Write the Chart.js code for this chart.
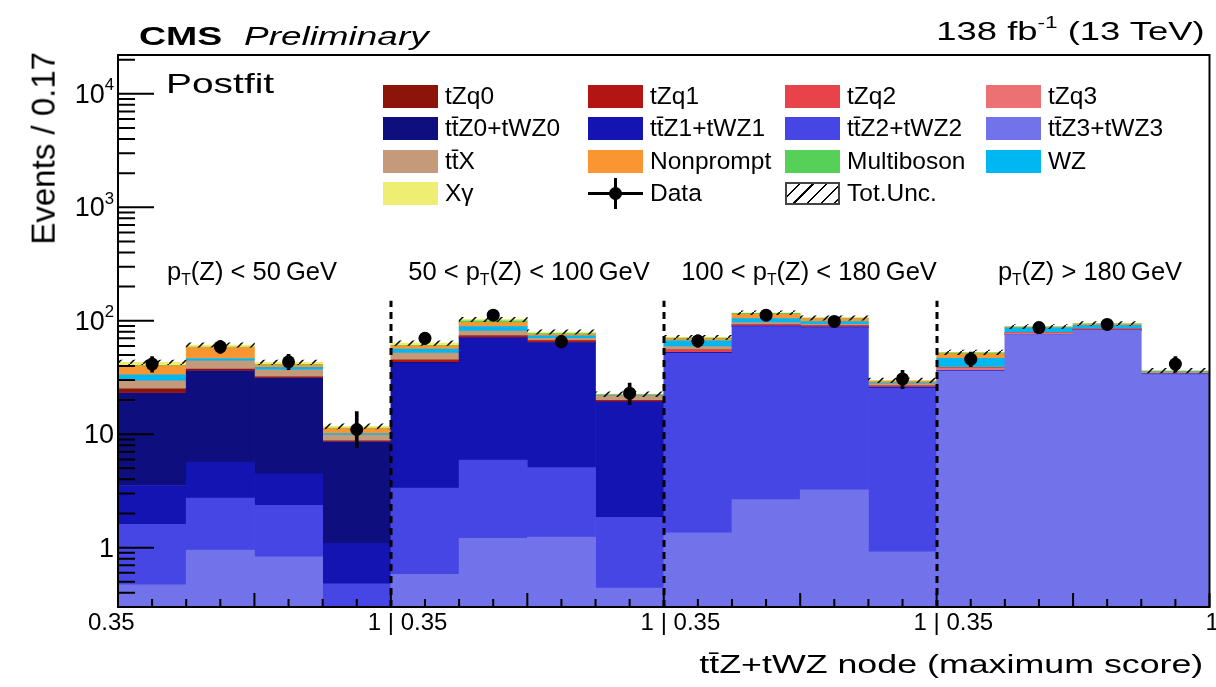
<!DOCTYPE html>
<html>
<head>
<meta charset="utf-8">
<script src="https://cdn.jsdelivr.net/npm/chart.js@4.4.1/dist/chart.umd.min.js"></script>
<style>
  body { margin: 0; background: #fff; }
  #wrap { position: relative; width: 1216px; height: 687px; overflow: hidden;
          font-family: "Liberation Sans", Arial, Helvetica, sans-serif; color: #000; }
  canvas { position: absolute; left: 0; top: 0; }
  .t { position: absolute; white-space: nowrap; line-height: 1; }
  .wide { transform-origin: left top; }
  sup.s { font-size: 0.62em; position: relative; top: -0.75em; vertical-align: baseline; }
  sub.s { font-size: 0.62em; position: relative; top: 0.3em; vertical-align: baseline; }
  .leg { position: absolute; height: 23px; display: flex; align-items: center; font-size: 24.5px; white-space: nowrap; }
  .sw { width: 55px; height: 23px; margin-right: 7px; box-sizing: border-box; position: relative; }
  .rlab { position: absolute; font-size: 25.5px; line-height: 1; white-space: nowrap; transform: translateX(-50%); }
  .ylab { position: absolute; font-size: 27px; line-height: 1; white-space: nowrap; transform: translateX(-100%); }
  .xlab { position: absolute; font-size: 24px; line-height: 1; white-space: nowrap; }
</style>
</head>
<body>
<div id="wrap">
  <canvas id="c" width="1216" height="687"></canvas>

  <div class="t wide" style="left:139px;top:23px;font-size:26px;font-weight:bold;transform:scaleX(1.44)">CMS</div>
  <div class="t wide" style="left:244px;top:23px;font-size:26px;font-style:italic;transform:scaleX(1.42)">Preliminary</div>
  <div class="t" style="right:11px;top:18px;font-size:26px;transform:scaleX(1.40);transform-origin:right top">138 fb<sup class="s">-1</sup> (13 TeV)</div>
  <div class="t wide" style="left:166px;top:70px;font-size:28px;transform:scaleX(1.39)">Postfit</div>
  <div class="t" style="right:13px;top:651px;font-size:26.5px;transform:scaleX(1.35);transform-origin:right top">tt̄Z+tWZ node (maximum score)</div>
  <div class="t" style="right:1189px;top:52px;font-size:33px;transform:rotate(-90deg);transform-origin:right top">Events / 0.17</div>

  <div class="rlab" style="left:252px;top:259px">p<sub class="s">T</sub>(Z) &lt; 50&#8201;GeV</div>
  <div class="rlab" style="left:529px;top:259px">50 &lt; p<sub class="s">T</sub>(Z) &lt; 100&#8201;GeV</div>
  <div class="rlab" style="left:809px;top:259px">100 &lt; p<sub class="s">T</sub>(Z) &lt; 180&#8201;GeV</div>
  <div class="rlab" style="left:1090px;top:259px">p<sub class="s">T</sub>(Z) &gt; 180&#8201;GeV</div>

  <div id="legend"></div>
  <div id="axlabels"></div>
</div>

<script>
// 16 bins: 4 pT(Z) regions x 4 score bins (0.35 - 1)
const binLabels = ['<50 a', '<50 b', '<50 c', '<50 d',
                   '50-100 a', '50-100 b', '50-100 c', '50-100 d',
                   '100-180 a', '100-180 b', '100-180 c', '100-180 d',
                   '>180 a', '>180 b', '>180 c', '>180 d'];

// postfit yields per process
const ttZ3 = [0.47, 0.95, 0.83, 0.20, 0.58, 1.21, 1.24, 0.44, 1.35, 2.65, 3.24, 0.92, 35.9, 75.5, 82.3, 33.6];
const ttZ2 = [1.13, 1.79, 1.53, 0.28, 2.77, 4.71, 3.84, 1.41, 50.2, 86.2, 83.8, 24.6, 0.4, 0.5, 0.5, 0.3];
const ttZ1 = [1.93, 2.91, 2.11, 0.61, 39.1, 64.4, 58.5, 17.3, 0.95, 0.95, 0.96, 0.40, 0.05, 0.05, 0.05, 0.02];
const ttZ0 = [19.5, 30.6, 26.8, 7.5, 0.55, 0.8, 0.7, 0.25, 0.1, 0.1, 0.1, 0.05, 0.02, 0.02, 0.02, 0.01];
const tZq3 = [0, 0, 0, 0, 0, 0.05, 0.05, 0, 0.1, 0.15, 0.15, 0.05, 1.8, 1.8, 1.5, 0.5];
const tZq2 = [0.02, 0.03, 0.03, 0.01, 0.1, 0.15, 0.15, 0.05, 2.4, 2.35, 1.85, 0.55, 0.1, 0.1, 0.1, 0.03];
const tZq1 = [0.15, 0.2, 0.15, 0.05, 1.9, 2.1, 1.9, 0.45, 0.1, 0.1, 0.1, 0.03, 0.05, 0.05, 0.05, 0.02];
const tZq0 = [1.9, 1.0, 0.55, 0.1, 0.1, 0.1, 0.1, 0.03, 0.02, 0.02, 0.02, 0.01, 0.01, 0.01, 0.01, 0.01];
const ttX = [4.5, 6.9, 5.0, 1.07, 6.8, 7.7, 3.7, 1.8, 3.9, 3.8, 2.9, 1.2, 0.7, 0.8, 0.7, 0.5];
const wz = [3.7, 2.1, 1.8, 0.3, 4.3, 7.6, 3.3, 0.2, 7.5, 8.1, 5.2, 0.6, 7.7, 7.7, 6.0, 0.4];
const nonprompt = [6.8, 11.6, 2.1, 1.1, 3.9, 7.4, 2.6, 0.3, 2.6, 9.3, 6.1, 0.8, 4.3, 0.8, 2.4, 0.4];
const multiboson = [0.4, 0.6, 0.4, 0.1, 0.6, 3.6, 1.0, 0.1, 1.2, 2.5, 1.0, 0.2, 1.2, 1.2, 0.5, 0.2];
const xgamma = [2.5, 2.5, 1.7, 0.4, 2.8, 3.0, 2.6, 0.2, 0.9, 1.5, 0.5, 0.4, 0.5, 0.4, 0.3, 0.4];

// total uncertainty (absolute, symmetric) on the summed prediction
const totUnc = [2.0, 2.8, 2.0, 0.6, 3.0, 4.5, 3.5, 1.1, 3.0, 4.8, 4.5, 1.4, 2.5, 3.8, 4.0, 1.7];

// observed data with error bar ends
const dataObs = [41.5, 58.9, 43.5, 11.0, 70.1, 112, 65.6, 23.0, 66.4, 112, 98.7, 30.7, 45.9, 87.0, 92.9, 41.5];
const dataLo  = [35.3, 51.5, 37.0, 7.6, 62.0, 101.5, 57.7, 18.2, 58.5, 101.5, 89.0, 25.2, 39.3, 78.0, 83.5, 35.3];
const dataHi  = [48.3, 67.0, 50.5, 15.8, 79.0, 123, 74.0, 28.2, 75.0, 123, 109, 36.5, 53.0, 96.5, 102.7, 48.3];

const yTickVals = [1, 10, 100, 1000, 10000];
const yTickText = ['1', '10', '10<sup class="s">2</sup>', '10<sup class="s">3</sup>', '10<sup class="s">4</sup>'];
const xTickText = ['0.35', '1 | 0.35', '1 | 0.35', '1 | 0.35', '1'];

const Y_MIN = 0.32, Y_MAX = 2.2e4;
const dividerTop = 150;

const colors = {
  tZq0: '#8c1409', tZq1: '#b31513', tZq2: '#e8434a', tZq3: '#ec7173',
  ttZ0: '#0e0e7e', ttZ1: '#1414b3', ttZ2: '#4646e5', ttZ3: '#7272ea',
  ttX: '#c49a7b', nonprompt: '#fa9632', multiboson: '#56d056', wz: '#00b7f2', xgamma: '#eeee73'
};

// stacking order, bottom first
const stack = [
  ['tt̄Z3+tWZ3', ttZ3, colors.ttZ3], ['tt̄Z2+tWZ2', ttZ2, colors.ttZ2],
  ['tt̄Z1+tWZ1', ttZ1, colors.ttZ1], ['tt̄Z0+tWZ0', ttZ0, colors.ttZ0],
  ['tZq3', tZq3, colors.tZq3], ['tZq2', tZq2, colors.tZq2],
  ['tZq1', tZq1, colors.tZq1], ['tZq0', tZq0, colors.tZq0],
  ['tt̄X', ttX, colors.ttX], ['WZ', wz, colors.wz],
  ['Nonprompt', nonprompt, colors.nonprompt], ['Multiboson', multiboson, colors.multiboson],
  ['Xγ', xgamma, colors.xgamma]
];

const total = binLabels.map((_, i) => stack.reduce((s, d) => s + d[1][i], 0));

const canvas = document.getElementById('c');
const ctx = canvas.getContext('2d');

function hatchPattern() {
  const p = document.createElement('canvas');
  p.width = 13; p.height = 13;
  const g = p.getContext('2d');
  g.strokeStyle = '#000';
  g.lineWidth = 1.5;
  g.beginPath(); g.moveTo(-2, 15); g.lineTo(15, -2); g.stroke();
  return ctx.createPattern(p, 'repeat');
}

// bars overlay each other in the same bin (grouped: false), each kind in its own stack
const datasets = stack.map(([label, vals, col]) => ({
  type: 'bar', label, data: vals, backgroundColor: col, borderWidth: 0,
  stack: 'mc', grouped: false, order: 3, barPercentage: 1, categoryPercentage: 1
}));

datasets.push({
  type: 'bar', label: 'Tot.Unc.', stack: 'unc', grouped: false, order: 2,
  data: total.map((t, i) => [t - totUnc[i], t + totUnc[i]]),
  backgroundColor: hatchPattern(), borderWidth: 0, barPercentage: 1, categoryPercentage: 1
});
datasets.push({
  type: 'bar', label: 'Data err', stack: 'err', grouped: false, order: 1,
  data: dataLo.map((lo, i) => [lo, dataHi[i]]),
  backgroundColor: '#000', borderWidth: 0, barThickness: 3
});
datasets.push({
  type: 'line', label: 'Data', order: 0, data: dataObs, showLine: false,
  pointRadius: 6.5, pointBackgroundColor: '#000', pointBorderColor: '#000', pointBorderWidth: 0
});

// frame, inward ticks and region dividers
const framePlugin = {
  id: 'frame',
  afterDatasetsDraw(chart) {
    const { ctx, chartArea: a, scales: { x, y } } = chart;
    const bw = x.getPixelForValue(1) - x.getPixelForValue(0);
    const edge = i => x.getPixelForValue(0) - bw / 2 + i * bw;
    ctx.save();
    ctx.strokeStyle = '#000';

    ctx.lineWidth = 3;
    ctx.setLineDash([7, 5]);
    for (let k = 4; k < binLabels.length; k += 4) {
      const px = Math.round(edge(k));
      ctx.beginPath();
      ctx.moveTo(px, a.bottom);
      ctx.lineTo(px, y.getPixelForValue(dividerTop));
      ctx.stroke();
    }
    ctx.setLineDash([]);

    ctx.lineWidth = 2;
    ctx.beginPath();
    for (let j = 0; j <= binLabels.length * 2; j++) {
      const px = edge(0) + j * bw / 2;
      const len = j % 4 === 0 ? 14 : 8;
      ctx.moveTo(px, a.bottom); ctx.lineTo(px, a.bottom - len);
    }
    for (let e = -1; e <= 4; e++) {
      for (let m = 1; m <= 9; m++) {
        const v = m * Math.pow(10, e);
        if (v < Y_MIN || v > Y_MAX) continue;
        const py = y.getPixelForValue(v);
        ctx.moveTo(a.left, py); ctx.lineTo(a.left + (m === 1 ? 36 : 17), py);
      }
    }
    ctx.stroke();
    ctx.strokeRect(a.left, a.top, a.right - a.left, a.bottom - a.top);
    ctx.restore();
  }
};

const chart = new Chart(ctx, {
  type: 'bar',
  data: { labels: binLabels, datasets },
  options: {
    responsive: false,
    animation: false,
    devicePixelRatio: 1,
    layout: { padding: { left: 118, right: 3, top: 55, bottom: 80 } },
    plugins: { legend: { display: false }, tooltip: { enabled: false } },
    scales: {
      x: { type: 'category', stacked: true, offset: true, display: false },
      y: { type: 'logarithmic', min: Y_MIN, max: Y_MAX, stacked: true, display: false }
    }
  },
  plugins: [framePlugin]
});

// axis numbers placed from the chart scales
(function placeAxisLabels() {
  const box = document.getElementById('axlabels');
  const { x, y } = chart.scales;
  const a = chart.chartArea;
  yTickVals.forEach((v, i) => {
    const d = document.createElement('div');
    d.className = 'ylab';
    d.innerHTML = yTickText[i];
    d.style.left = (a.left - 4) + 'px';
    d.style.top = (y.getPixelForValue(v) - 13) + 'px';
    box.appendChild(d);
  });
  const bw = x.getPixelForValue(1) - x.getPixelForValue(0);
  xTickText.forEach((txt, i) => {
    const ex = x.getPixelForValue(0) - bw / 2 + i * 4 * bw;
    const d = document.createElement('div');
    d.className = 'xlab';
    d.style.top = (a.bottom + 3) + 'px';
    if (txt.includes('|')) {
      const [l, r] = txt.split('|');
      d.innerHTML = '<span style="position:absolute;right:100%">' + l.trim() + '&nbsp;</span>|<span style="position:absolute;left:100%">&nbsp;' + r.trim() + '</span>';
      d.style.left = ex + 'px';
      d.style.transform = 'translateX(-50%)';
    } else if (i === 0) {
      d.textContent = txt;
      d.style.left = (ex - 30) + 'px';
    } else {
      d.textContent = txt;
      d.style.left = (ex - 4) + 'px';
    }
    box.appendChild(d);
  });
})();

// legend, four columns
const legendCols = [383, 588, 785, 986];
const legendRows = [96, 128.5, 161, 193.5];
const legendItems = [
  ['tZq0', colors.tZq0], ['tZq1', colors.tZq1], ['tZq2', colors.tZq2], ['tZq3', colors.tZq3],
  ['tt̄Z0+tWZ0', colors.ttZ0], ['tt̄Z1+tWZ1', colors.ttZ1], ['tt̄Z2+tWZ2', colors.ttZ2], ['tt̄Z3+tWZ3', colors.ttZ3],
  ['tt̄X', colors.ttX], ['Nonprompt', colors.nonprompt], ['Multiboson', colors.multiboson], ['WZ', colors.wz],
  ['Xγ', colors.xgamma], ['Data', 'data'], ['Tot.Unc.', 'unc']
];
(function buildLegend() {
  const box = document.getElementById('legend');
  legendItems.forEach(([name, col], k) => {
    const row = document.createElement('div');
    row.className = 'leg';
    row.style.left = legendCols[k % 4] + 'px';
    row.style.top = (legendRows[Math.floor(k / 4)] - 11.5) + 'px';
    const sw = document.createElement('div');
    sw.className = 'sw';
    if (col === 'data') {
      sw.innerHTML = '<div style="position:absolute;left:0;right:0;top:10px;height:3px;background:#000"></div>' +
        '<div style="position:absolute;left:26px;width:3px;top:-4px;height:31px;background:#000"></div>' +
        '<div style="position:absolute;left:21px;top:5px;width:13px;height:13px;border-radius:50%;background:#000"></div>';
    } else if (col === 'unc') {
      sw.style.border = '2px solid #444';
      sw.style.background = 'repeating-linear-gradient(135deg, #fff 0 8px, #000 8px 9.6px)';
    } else {
      sw.style.background = col;
    }
    const tx = document.createElement('span');
    tx.textContent = name;
    tx.style.lineHeight = '1';
    row.appendChild(sw);
    row.appendChild(tx);
    box.appendChild(row);
  });
})();
</script>
</body>
</html>
